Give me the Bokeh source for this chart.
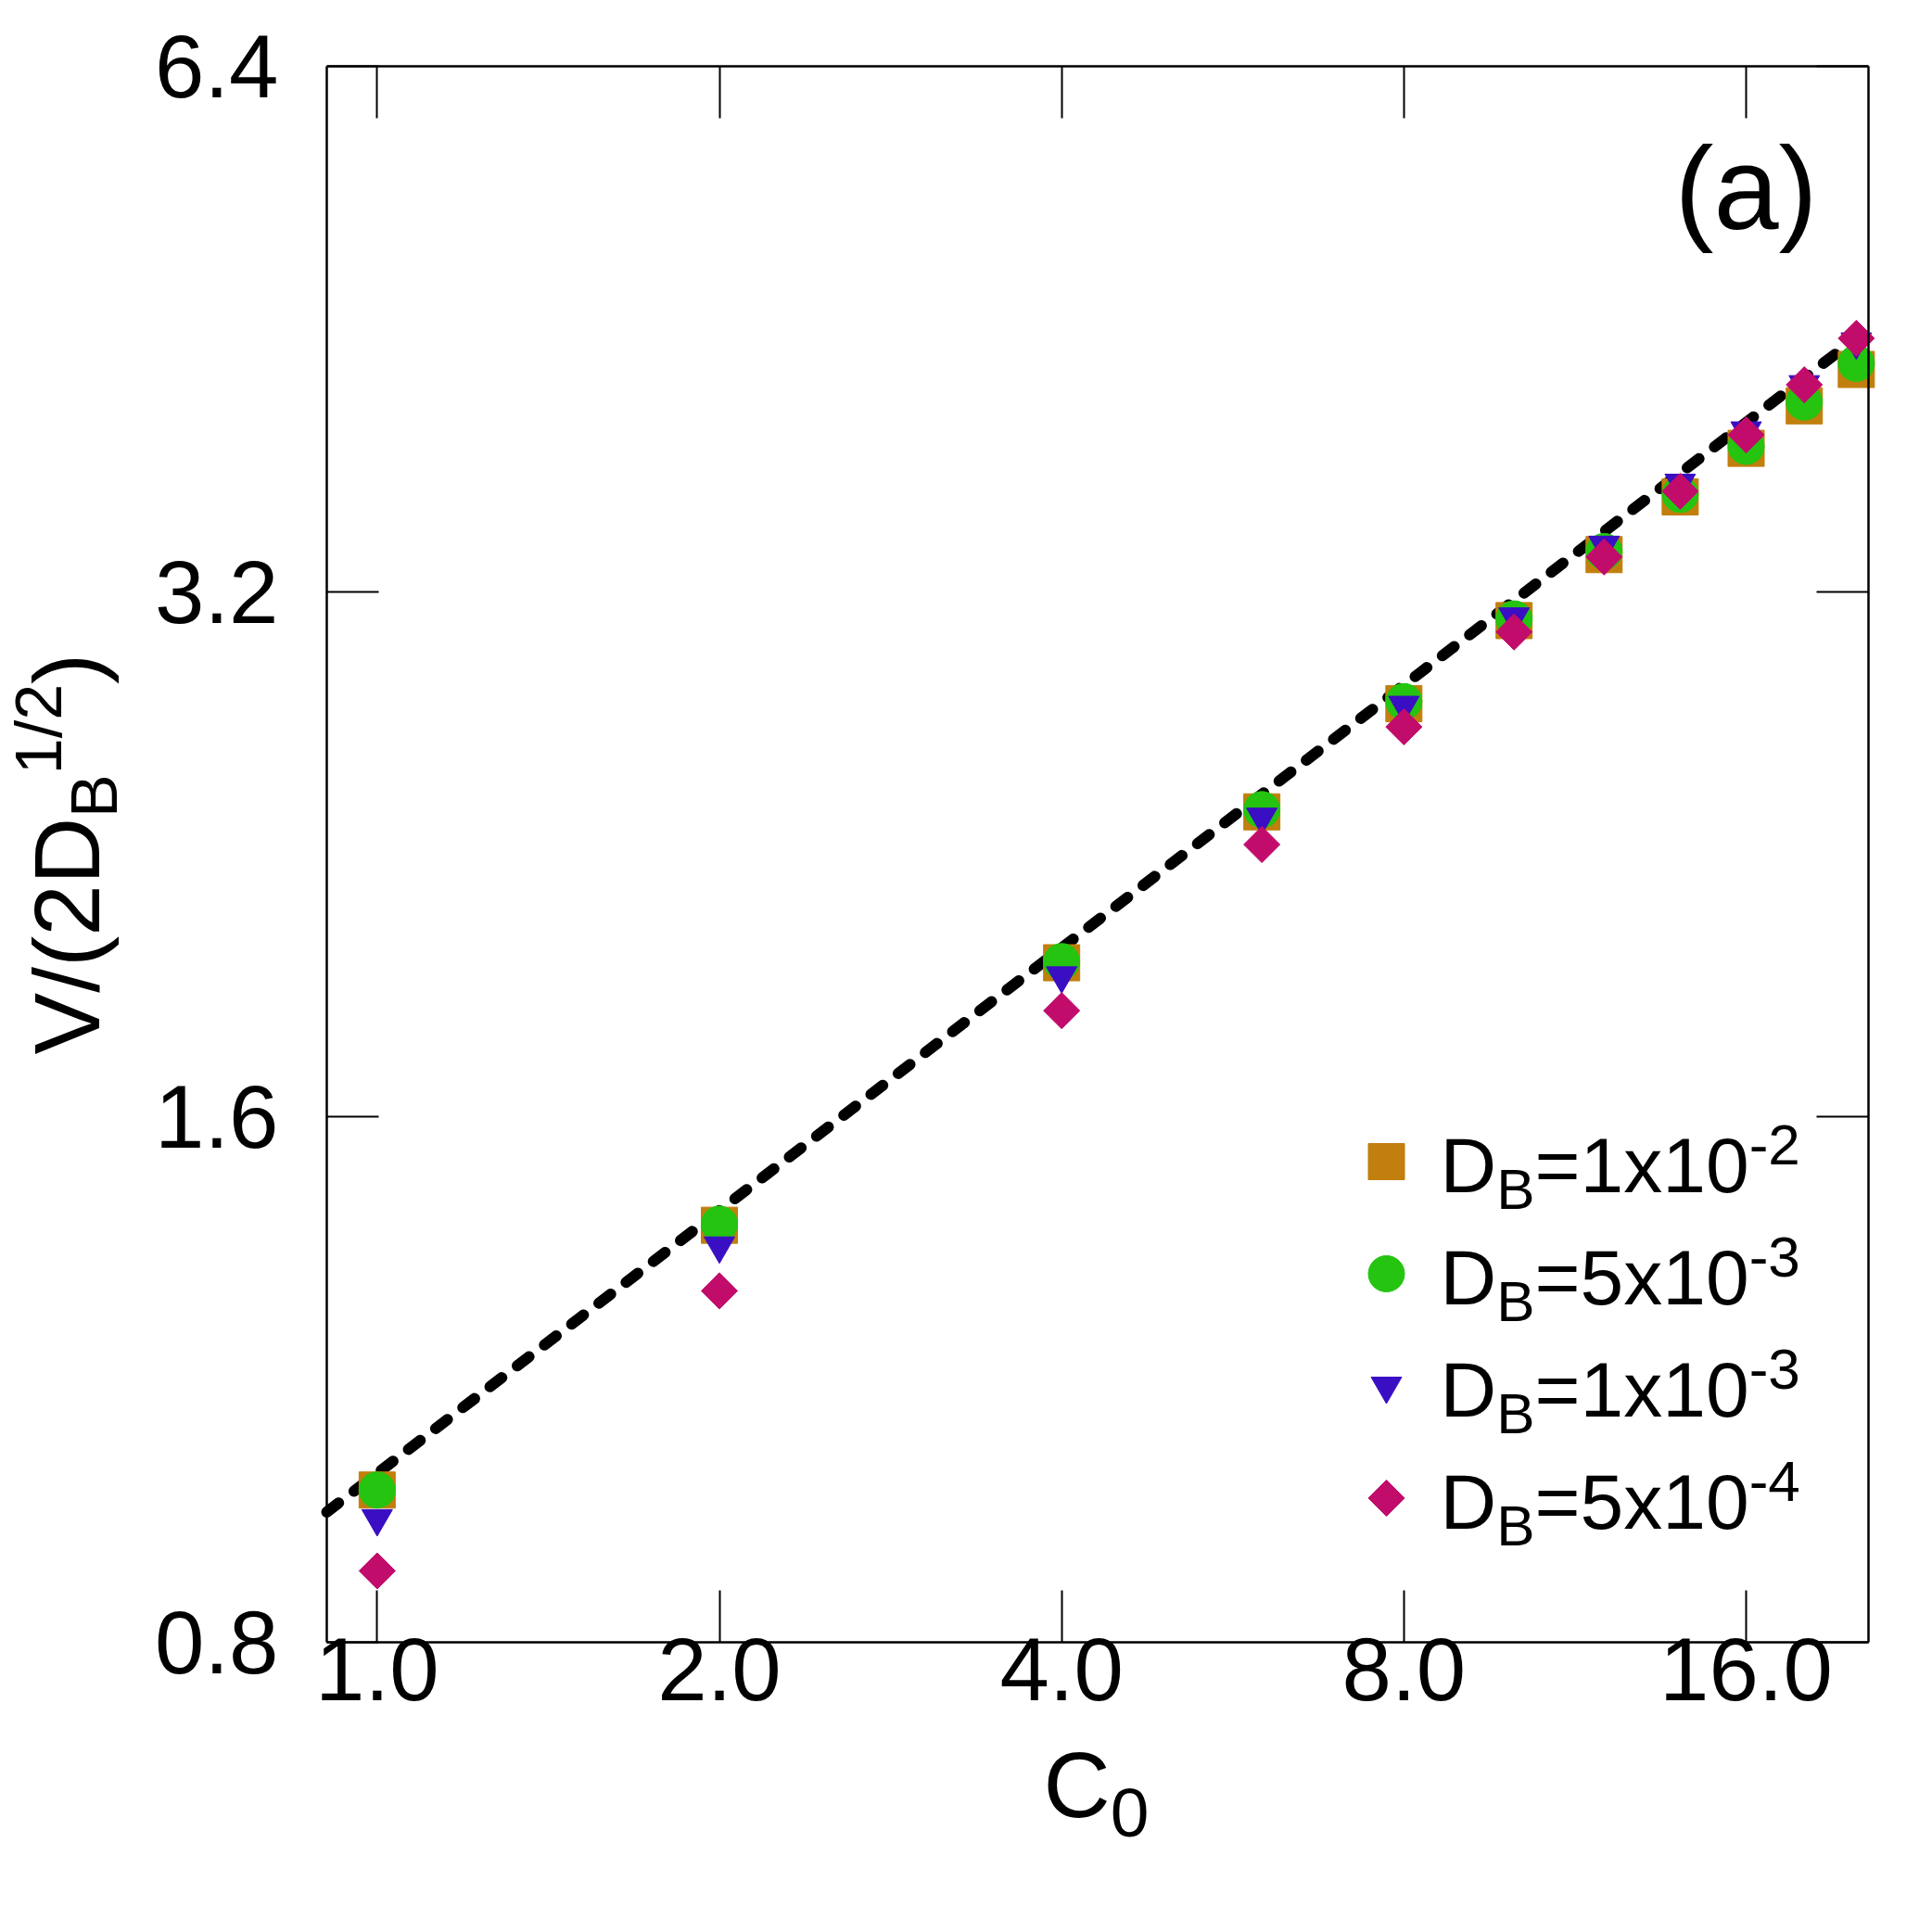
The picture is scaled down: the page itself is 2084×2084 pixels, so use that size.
import numpy as np
from bokeh.plotting import figure
from bokeh.models import (Range1d, LinearScale, FixedTicker, PrintfTickFormatter,
                          LogAxis, Label, CustomJSTickFormatter)
from bokeh.embed import file_html
from bokeh.resources import INLINE

# ---------------- data ----------------
c0 = [1, 2, 4, 6, 8, 10, 12, 14, 16, 18, 20]
v_db_1e2 = [0.978, 1.387, 1.961, 2.393, 2.760, 3.080, 3.360, 3.626, 3.866, 4.089, 4.290]
v_db_5e3 = [0.978, 1.389, 1.964, 2.400, 2.768, 3.087, 3.374, 3.638, 3.876, 4.109, 4.325]
v_db_1e3 = [0.942, 1.350, 1.928, 2.377, 2.755, 3.096, 3.403, 3.693, 3.957, 4.206, 4.450]
v_db_5e4 = [0.879, 1.272, 1.841, 2.292, 2.677, 3.034, 3.350, 3.653, 3.935, 4.204, 4.470]
fit_c0 = [0.903, 20.0]
fit_v = [0.950, 4.472]
x_ticks = [1, 2, 4, 8, 16]
y_ticks = [0.8, 1.6, 3.2, 6.4]
x_lim = (0.903, 20.5)
y_lim = (0.8, 6.4)
legend_main = ["=1x10", "=5x10", "=1x10", "=5x10"]
legend_exp = ["-2", "-3", "-3", "-4"]

# ---------------- layout / style ----------------
FONT = "Liberation Sans"
COLORS = ["#C17F0D", "#24C411", "#3A0EC2", "#C10C6C"]
W, H = 2084, 2084
BOX_L, BOX_R, BOX_T, BOX_B = 352, 2015, 71, 1771   # axes box in page pixels
K = 0.36                                             # baseline correction (em)

ADV = {'D': 722, 'B': 667, '=': 584, '1': 556, 'x': 500, '0': 556, '5': 556, '-': 333,
       '2': 556, '3': 556, '4': 556, 'C': 722, 'V': 667, '/': 278, '(': 333, ')': 333, 'a': 556}


def tw(s, size):
    return sum(ADV.get(c, 556) for c in s) / 1000.0 * size


def outer(lo, hi, a, b, n):
    s = (np.log(hi) - np.log(lo)) / (b - a)
    return float(np.exp(np.log(lo) - a * s)), float(np.exp(np.log(hi) + (n - b) * s))


xr = outer(x_lim[0], x_lim[1], BOX_L, BOX_R, W)
yr = outer(y_lim[0], y_lim[1], H - BOX_B, H - BOX_T, H)

p = figure(width=W, height=H, x_range=Range1d(*xr), y_range=Range1d(*yr),
           x_axis_type="log", y_axis_type="log",
           x_axis_location=None, y_axis_location=None,
           min_border=0, min_border_left=0, min_border_right=0,
           min_border_top=0, min_border_bottom=0,
           output_backend="svg", toolbar_location=None)
p.title.visible = False
p.background_fill_color = "white"
p.border_fill_color = "white"
p.outline_line_color = None
p.grid.visible = False


def make_axis(ticks, loc, bounds, labelled, standoff):
    ax = LogAxis(ticker=FixedTicker(ticks=ticks), fixed_location=loc, bounds=bounds,
                 major_tick_in=56, major_tick_out=0, major_tick_line_width=2,
                 major_tick_line_color="black", minor_tick_line_color=None,
                 axis_line_color="black", axis_line_width=2.5)
    if labelled:
        ax.formatter = PrintfTickFormatter(format="%.1f")
        ax.major_label_text_font = FONT
        ax.major_label_text_font_size = "96px"
        ax.major_label_text_color = "black"
        ax.major_label_standoff = standoff
    else:
        ax.formatter = CustomJSTickFormatter(code="return ''")
        ax.major_label_text_font_size = "0px"
    return ax


p.add_layout(make_axis(x_ticks, y_lim[0], x_lim, True, -5), "below")
p.add_layout(make_axis(y_ticks, x_lim[0], y_lim, True, 52), "left")
p.add_layout(make_axis(x_ticks, y_lim[1], x_lim, False, 0), "above")
p.add_layout(make_axis(y_ticks, x_lim[1], y_lim, False, 0), "right")

# ---------------- data marks ----------------
p.line(fit_c0, fit_v, line_color="black", line_width=12, line_dash="16 21", line_cap="round")

series = [v_db_1e2, v_db_5e3, v_db_1e3, v_db_5e4]
markers = [("square", 39, 0.0), ("circle", 39, 0.0), ("inverted_triangle", 33, 0.0),
           ("square", 27.6, np.pi / 4)]
for vals, (mk, sz, ang), col in zip(series, markers, COLORS):
    p.scatter(c0, vals, marker=mk, size=sz, angle=ang, fill_color=col, line_color=col)

# ---------------- page-pixel space for legend / texts ----------------
p.extra_x_ranges = {"px": Range1d(0, W)}
p.extra_y_ranges = {"px": Range1d(0, H)}
p.extra_x_scales = {"px": LinearScale()}
p.extra_y_scales = {"px": LinearScale()}


def add_text(s, px, py, fs, rotated=False):
    if rotated:
        x, y, ang = px - K * fs, H - py, np.pi / 2
    else:
        x, y, ang = px, H - (py - K * fs), 0.0
    p.add_layout(Label(x=x, y=y, x_units="screen", y_units="screen", text=s,
                       text_font=FONT, text_font_size=f"{fs}px", text_color="black",
                       text_align="left", text_baseline="alphabetic", angle=ang))


ROW = 121.0
for i, ((mk, sz, ang), col) in enumerate(zip(markers, COLORS)):
    p.scatter([1495], [H - (1252.5 + ROW * i)], marker=mk, size=sz, angle=ang,
              fill_color=col, line_color=col, x_range_name="px", y_range_name="px")
    base = 1286.7 + ROW * i
    MAIN, SMALL = 84, 62
    x = 1553
    for s, fs, dy in (("D", MAIN, 0), ("B", SMALL, 18), (legend_main[i], MAIN, 0),
                      (legend_exp[i], SMALL, -30)):
        add_text(s, x, base + dy, fs)
        x += tw(s, fs)

# panel tag
add_text("(a)", 1806, 248, 126)

# x axis label C_0
x = 1125
for s, fs, dy in (("C", 100, 0), ("0", 75, 22)):
    add_text(s, x, 1960 + dy, fs)
    x += tw(s, fs)

# y axis label V/(2D_B^{1/2})
y = 1137
for s, fs, bx in (("V/(2D", 100, 107), ("B", 70, 127), ("1/2", 70, 67), (")", 100, 107)):
    add_text(s, bx, y, fs, rotated=True)
    y -= tw(s, fs)

open("out.html", "w").write(file_html(p, INLINE))
